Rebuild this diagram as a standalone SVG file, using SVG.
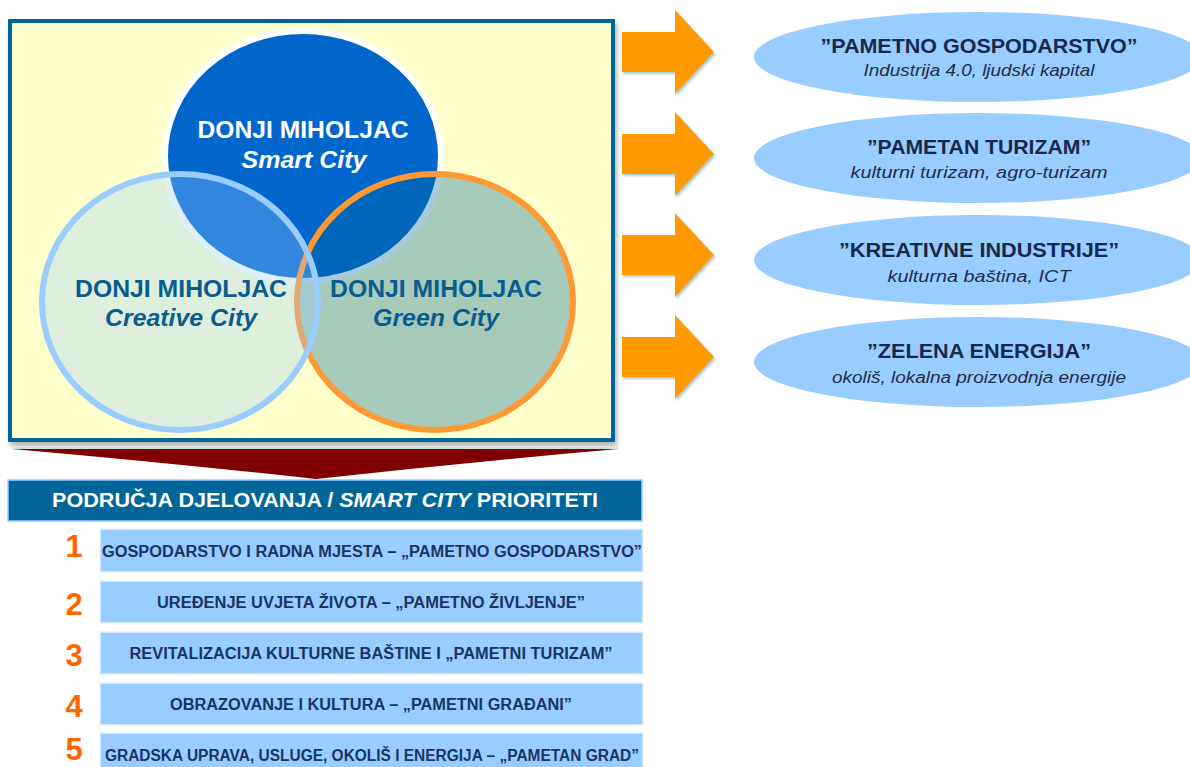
<svg xmlns="http://www.w3.org/2000/svg" width="1190" height="767" viewBox="0 0 1190 767">
<defs>
<filter id="sh" x="-5%" y="-5%" width="110%" height="115%">
<feDropShadow dx="2" dy="4" stdDeviation="2.5" flood-color="#000" flood-opacity="0.3"/>
</filter>
<filter id="ash" x="-10%" y="-10%" width="130%" height="130%">
<feDropShadow dx="1.5" dy="2" stdDeviation="1" flood-color="#8fbfbf" flood-opacity="0.8"/>
</filter>
<path id="arr" d="M0,22 H53 V0 L92,42 L53,84 V62 H0 Z"/>
</defs>
<style>
text{font-family:"Liberation Sans",Arial,sans-serif;}
.b{font-weight:bold;}
.i{font-style:italic;}
.cw{fill:#ffffff;font-size:23px;font-weight:bold;text-anchor:middle;}
.cb{fill:#0a5c8f;font-size:23px;font-weight:bold;text-anchor:middle;}
.et{fill:#17294a;font-size:20px;font-weight:bold;text-anchor:middle;}
.es{fill:#1f2d4a;font-size:16px;font-style:italic;text-anchor:middle;}
.ell{fill:#99ccff;}
.row{fill:#99ccff;stroke:#e6f2ff;stroke-width:1.5;}
.rt{fill:#1a3563;font-size:16px;font-weight:bold;text-anchor:middle;}
.num{fill:#ff6600;font-size:31px;font-weight:bold;text-anchor:middle;}
.arrow{fill:#ff9900;filter:url(#ash);}
</style>

<g id="venn-box">
<rect x="10" y="21" width="603" height="419" fill="#ffffcc" stroke="#006699" stroke-width="4" filter="url(#sh)"/>
</g>

<g id="smart-city">
<ellipse cx="303" cy="156" rx="138" ry="125" fill="#0066cc" stroke="#ffffff" stroke-width="6"/>
<text class="cw" x="303" y="138" textLength="211" lengthAdjust="spacingAndGlyphs">DONJI MIHOLJAC</text>
<text class="cw i" x="304" y="168" textLength="125" lengthAdjust="spacingAndGlyphs">Smart City</text>
</g>

<g id="green-city">
<ellipse cx="435" cy="302" rx="138" ry="128" fill="#006699" fill-opacity="0.35" stroke="#ff9933" stroke-width="6"/>
</g>

<g id="creative-city">
<ellipse cx="180" cy="302" rx="138" ry="128" fill="#99ccff" fill-opacity="0.33" stroke="#99ccff" stroke-width="6"/>
<text class="cb" x="181" y="297" textLength="212" lengthAdjust="spacingAndGlyphs">DONJI MIHOLJAC</text>
<text class="cb i" x="181" y="326" textLength="152" lengthAdjust="spacingAndGlyphs">Creative City</text>
</g>

<g id="green-city-label">
<text class="cb" x="436" y="297" textLength="212" lengthAdjust="spacingAndGlyphs">DONJI MIHOLJAC</text>
<text class="cb i" x="436" y="326" textLength="126" lengthAdjust="spacingAndGlyphs">Green City</text>
</g>

<g id="connectors">
<use href="#arr" class="arrow" x="622" y="10"/>
<use href="#arr" class="arrow" x="622" y="112"/>
<use href="#arr" class="arrow" x="622" y="213"/>
<use href="#arr" class="arrow" x="622" y="315"/>
<path d="M12,449 L618,449 Q470,462 316,479 Q160,462 12,449 Z" fill="#7f0000"/>
<path d="M12,448 L618,448" stroke="#cfe3e3" stroke-width="2"/>
</g>

<g id="pametno-gospodarstvo">
<ellipse class="ell" cx="978" cy="57" rx="224" ry="45"/>
<text class="et" x="979" y="53" textLength="317" lengthAdjust="spacingAndGlyphs">”PAMETNO GOSPODARSTVO”</text>
<text class="es" x="979" y="76" textLength="231" lengthAdjust="spacingAndGlyphs">Industrija 4.0, ljudski kapital</text>
</g>

<g id="pametan-turizam">
<ellipse class="ell" cx="978" cy="158" rx="224" ry="45"/>
<text class="et" x="979" y="154" textLength="224" lengthAdjust="spacingAndGlyphs">”PAMETAN TURIZAM”</text>
<text class="es" x="979" y="178" textLength="257" lengthAdjust="spacingAndGlyphs">kulturni turizam, agro-turizam</text>
</g>

<g id="kreativne-industrije">
<ellipse class="ell" cx="978" cy="260" rx="224" ry="45"/>
<text class="et" x="979" y="257" textLength="280" lengthAdjust="spacingAndGlyphs">”KREATIVNE INDUSTRIJE”</text>
<text class="es" x="979" y="282" textLength="183" lengthAdjust="spacingAndGlyphs">kulturna baština, ICT</text>
</g>

<g id="zelena-energija">
<ellipse class="ell" cx="978" cy="362" rx="224" ry="45"/>
<text class="et" x="979" y="358" textLength="224" lengthAdjust="spacingAndGlyphs">”ZELENA ENERGIJA”</text>
<text class="es" x="979" y="383" textLength="294" lengthAdjust="spacingAndGlyphs">okoliš, lokalna proizvodnja energije</text>
</g>

<g id="header">
<rect x="8" y="480" width="634" height="41" fill="#006699" stroke="#99ccff" stroke-width="1.5"/>
<text x="325" y="507" fill="#ffffff" font-size="20" font-weight="bold" text-anchor="middle" textLength="546" lengthAdjust="spacingAndGlyphs">PODRUČJA DJELOVANJA / <tspan font-style="italic">SMART CITY</tspan> PRIORITETI</text>
</g>

<g id="priority-1">
<rect class="row" x="100" y="529" width="543" height="43"/>
<text class="num" x="74" y="557">1</text>
<text class="rt" x="372" y="557" textLength="540" lengthAdjust="spacingAndGlyphs">GOSPODARSTVO I RADNA MJESTA – „PAMETNO GOSPODARSTVO”</text>
</g>

<g id="priority-2">
<rect class="row" x="100" y="581" width="543" height="42"/>
<text class="num" x="74" y="615">2</text>
<text class="rt" x="371" y="608" textLength="428" lengthAdjust="spacingAndGlyphs">UREĐENJE UVJETA ŽIVOTA – „PAMETNO ŽIVLJENJE”</text>
</g>

<g id="priority-3">
<rect class="row" x="100" y="632" width="543" height="42"/>
<text class="num" x="74" y="666">3</text>
<text class="rt" x="371" y="659" textLength="483" lengthAdjust="spacingAndGlyphs">REVITALIZACIJA KULTURNE BAŠTINE I „PAMETNI TURIZAM”</text>
</g>

<g id="priority-4">
<rect class="row" x="100" y="683" width="543" height="42"/>
<text class="num" x="74" y="717">4</text>
<text class="rt" x="371" y="710" textLength="402" lengthAdjust="spacingAndGlyphs">OBRAZOVANJE I KULTURA – „PAMETNI GRAĐANI”</text>
</g>

<g id="priority-5">
<rect class="row" x="100" y="733" width="543" height="42"/>
<text class="num" x="74" y="760">5</text>
<text class="rt" x="372" y="761" textLength="534" lengthAdjust="spacingAndGlyphs">GRADSKA UPRAVA, USLUGE, OKOLIŠ I ENERGIJA – „PAMETAN GRAD”</text>
</g>
</svg>
